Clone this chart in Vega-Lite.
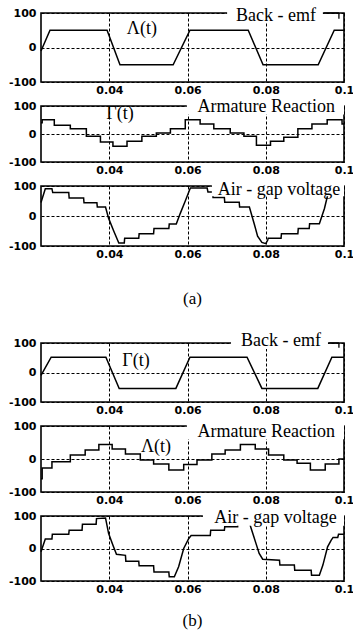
{
  "$schema": "https://vega.github.io/schema/vega-lite/v6.json",
  "padding": {"left": 7, "top": 5, "right": 0, "bottom": 0},
  "background": "white",
  "datasets": {
    "emfA": [
      {"t": 0.0225, "v": -10}, {"t": 0.0248, "v": 50}, {"t": 0.0394, "v": 50}, {"t": 0.0427, "v": -50},
      {"t": 0.0563, "v": -50}, {"t": 0.0606, "v": 50}, {"t": 0.0755, "v": 50}, {"t": 0.0793, "v": -50},
      {"t": 0.0934, "v": -50}, {"t": 0.0975, "v": 50}, {"t": 0.1, "v": 50}
    ],
    "armA": [
      {"t": 0.0225, "v": 40}, {"t": 0.0228, "v": 51}, {"t": 0.0259, "v": 31}, {"t": 0.03, "v": 19},
      {"t": 0.0341, "v": -8}, {"t": 0.0377, "v": -29}, {"t": 0.0409, "v": -44}, {"t": 0.0445, "v": -26},
      {"t": 0.0483, "v": -8}, {"t": 0.052, "v": 4}, {"t": 0.0556, "v": 19}, {"t": 0.0594, "v": 51},
      {"t": 0.0632, "v": 36}, {"t": 0.0667, "v": 19}, {"t": 0.0709, "v": 4}, {"t": 0.0744, "v": -8},
      {"t": 0.0776, "v": -40}, {"t": 0.0812, "v": -26}, {"t": 0.0846, "v": -12}, {"t": 0.0882, "v": 19},
      {"t": 0.0918, "v": 36}, {"t": 0.0957, "v": 51}, {"t": 0.0995, "v": 36}, {"t": 0.1, "v": 36}
    ],
    "airA": [
      {"t": 0.0225, "v": 45}, {"t": 0.0236, "v": 91}, {"t": 0.0253, "v": 91}, {"t": 0.0255, "v": 78},
      {"t": 0.0296, "v": 78}, {"t": 0.0297, "v": 60}, {"t": 0.0334, "v": 60}, {"t": 0.0335, "v": 44},
      {"t": 0.0368, "v": 44}, {"t": 0.0369, "v": 30}, {"t": 0.039, "v": 30}, {"t": 0.0398, "v": -8},
      {"t": 0.0411, "v": -50}, {"t": 0.0424, "v": -90}, {"t": 0.0438, "v": -90}, {"t": 0.0439, "v": -74},
      {"t": 0.0475, "v": -74}, {"t": 0.0476, "v": -59}, {"t": 0.0513, "v": -59}, {"t": 0.0514, "v": -42},
      {"t": 0.0552, "v": -42}, {"t": 0.0553, "v": -27}, {"t": 0.0571, "v": -27}, {"t": 0.0581, "v": 8},
      {"t": 0.0594, "v": 50}, {"t": 0.0607, "v": 93}, {"t": 0.065, "v": 93}, {"t": 0.0652, "v": 80},
      {"t": 0.0664, "v": 80}, {"t": 0.0665, "v": 62}, {"t": 0.0694, "v": 62}, {"t": 0.0695, "v": 46},
      {"t": 0.0732, "v": 46}, {"t": 0.0733, "v": 30}, {"t": 0.0758, "v": 30}, {"t": 0.0771, "v": -29},
      {"t": 0.0779, "v": -67}, {"t": 0.079, "v": -88}, {"t": 0.08, "v": -92}, {"t": 0.0805, "v": -80},
      {"t": 0.0806, "v": -74}, {"t": 0.0839, "v": -74}, {"t": 0.084, "v": -59}, {"t": 0.0882, "v": -59},
      {"t": 0.0883, "v": -42}, {"t": 0.0911, "v": -42}, {"t": 0.0912, "v": -26}, {"t": 0.0937, "v": -26},
      {"t": 0.095, "v": 25}, {"t": 0.0958, "v": 68}, {"t": 0.0967, "v": 91}, {"t": 0.1, "v": 91}
    ],
    "emfB": [
      {"t": 0.0225, "v": -10}, {"t": 0.0251, "v": 52}, {"t": 0.0391, "v": 52}, {"t": 0.0425, "v": -54},
      {"t": 0.057, "v": -54}, {"t": 0.0606, "v": 52}, {"t": 0.0752, "v": 52}, {"t": 0.079, "v": -54},
      {"t": 0.0933, "v": -54}, {"t": 0.0969, "v": 52}, {"t": 0.1, "v": 52}
    ],
    "armB": [
      {"t": 0.0225, "v": -60}, {"t": 0.0228, "v": -27}, {"t": 0.0253, "v": -8}, {"t": 0.03, "v": 12},
      {"t": 0.0338, "v": 27}, {"t": 0.0373, "v": 44}, {"t": 0.0407, "v": 30}, {"t": 0.0441, "v": 15},
      {"t": 0.0479, "v": -3}, {"t": 0.0513, "v": -15}, {"t": 0.0552, "v": -33}, {"t": 0.059, "v": -17},
      {"t": 0.0624, "v": -3}, {"t": 0.0662, "v": 15}, {"t": 0.0696, "v": 27}, {"t": 0.0735, "v": 44},
      {"t": 0.0773, "v": 30}, {"t": 0.0807, "v": 12}, {"t": 0.0846, "v": -3}, {"t": 0.088, "v": -13},
      {"t": 0.0914, "v": -33}, {"t": 0.0952, "v": -15}, {"t": 0.0987, "v": 0}, {"t": 0.1, "v": 0}
    ],
    "airB": [
      {"t": 0.0225, "v": -10}, {"t": 0.0236, "v": 29}, {"t": 0.0253, "v": 29}, {"t": 0.0254, "v": 44},
      {"t": 0.0296, "v": 44}, {"t": 0.0297, "v": 56}, {"t": 0.033, "v": 56}, {"t": 0.0331, "v": 75},
      {"t": 0.0366, "v": 75}, {"t": 0.0367, "v": 92}, {"t": 0.039, "v": 94}, {"t": 0.0398, "v": 46},
      {"t": 0.0409, "v": 10}, {"t": 0.0418, "v": -18}, {"t": 0.0441, "v": -21}, {"t": 0.0442, "v": -39},
      {"t": 0.0475, "v": -39}, {"t": 0.0476, "v": -53}, {"t": 0.0513, "v": -53}, {"t": 0.0514, "v": -72},
      {"t": 0.0552, "v": -72}, {"t": 0.0553, "v": -87}, {"t": 0.0566, "v": -87}, {"t": 0.0577, "v": -56},
      {"t": 0.059, "v": 0}, {"t": 0.0603, "v": 31}, {"t": 0.0609, "v": 40}, {"t": 0.0658, "v": 40},
      {"t": 0.0659, "v": 56}, {"t": 0.0694, "v": 56}, {"t": 0.0695, "v": 67}, {"t": 0.0728, "v": 67},
      {"t": 0.0729, "v": 92}, {"t": 0.0755, "v": 92}, {"t": 0.0762, "v": 64}, {"t": 0.0775, "v": 15},
      {"t": 0.0783, "v": -15}, {"t": 0.0792, "v": -33}, {"t": 0.0835, "v": -36}, {"t": 0.0836, "v": -51},
      {"t": 0.0873, "v": -51}, {"t": 0.0874, "v": -67}, {"t": 0.0916, "v": -67}, {"t": 0.0917, "v": -82},
      {"t": 0.0937, "v": -82}, {"t": 0.0946, "v": -51}, {"t": 0.0958, "v": 5}, {"t": 0.0967, "v": 25},
      {"t": 0.0972, "v": 34}, {"t": 0.0984, "v": 34}, {"t": 0.0986, "v": 44}, {"t": 0.1, "v": 44}
    ]
  },
  "config": {
    "view": {"stroke": "black", "strokeWidth": 1.6},
    "axis": {
      "labelFont": "DejaVu Sans", "labelFontWeight": "bold", "labelFontSize": 11, "labelColor": "black",
      "ticks": false, "domain": false, "gridColor": "black", "gridDash": [3, 2], "gridWidth": 1, "gridOpacity": 1,
      "tickCount": 10, "labelOverlap": false
    },
    "line": {"color": "black", "strokeWidth": 1.5},
    "text": {"font": "Liberation Serif", "fontSize": 18, "color": "black", "align": "center", "baseline": "alphabetic"}
  },
  "vconcat": [
    {
      "width": 303, "height": 69,
      "layer": [
        {"data": {"name": "emfA"}, "mark": "line",
         "encoding": {
           "x": {"field": "t", "type": "quantitative", "title": null, "scale": {"domain": [0.0225, 0.1], "nice": false, "zero": false}, "axis": {"values": [0.04, 0.06, 0.08, 0.1], "format": "~g", "labelPadding": 2, "labelFlush": false}},
           "y": {"field": "v", "type": "quantitative", "title": null, "scale": {"domain": [-100, 100], "nice": false}, "axis": {"values": [-100, 0, 100], "labelPadding": 5, "labelExpr": "replace(datum.label, '−', '-')"}}
         }},
        {"data": {"values": [{}]}, "mark": {"type": "rect", "color": "white"},
         "encoding": {"x": {"datum": 0.0701}, "x2": {"datum": 0.0946}, "y": {"datum": 120}, "y2": {"datum": 72}}},
        {"data": {"values": [{}]}, "mark": {"type": "rule", "color": "black", "strokeWidth": 1.3},
         "encoding": {"x": {"datum": 0.0949}, "x2": {"datum": 0.0987}, "y": {"datum": 100}}},
        {"data": {"values": [{}]}, "mark": {"type": "rule", "color": "black", "strokeWidth": 1.3},
         "encoding": {"x": {"datum": 0.0987}, "y": {"datum": 100}, "y2": {"datum": 83}}},
        {"data": {"values": [{"label": "Λ(t)"}]}, "mark": "text",
         "encoding": {"x": {"datum": 0.0483}, "y": {"datum": 40}, "text": {"field": "label"}}},
        {"data": {"values": [{"label": "Back - emf"}]}, "mark": "text",
         "encoding": {"x": {"datum": 0.0826}, "y": {"datum": 78}, "text": {"field": "label"}}}
      ]
    },
    {
      "width": 303, "height": 56,
      "layer": [
        {"data": {"name": "armA"}, "mark": {"type": "line", "interpolate": "step-after"},
         "encoding": {
           "x": {"field": "t", "type": "quantitative", "title": null, "scale": {"domain": [0.0225, 0.1], "nice": false, "zero": false}, "axis": {"values": [0.04, 0.06, 0.08, 0.1], "format": "~g", "labelPadding": 2, "labelFlush": false}},
           "y": {"field": "v", "type": "quantitative", "title": null, "scale": {"domain": [-100, 100], "nice": false}, "axis": {"values": [-100, 0, 100], "labelPadding": 5, "labelExpr": "replace(datum.label, '−', '-')"}}
         }},
        {"data": {"values": [{}]}, "mark": {"type": "rect", "color": "white"},
         "encoding": {"x": {"datum": 0.0598}, "x2": {"datum": 0.1}, "y": {"datum": 128}, "y2": {"datum": 70}}},
        {"data": {"values": [{"label": "Γ(t)"}]}, "mark": "text",
         "encoding": {"x": {"datum": 0.0427}, "y": {"datum": 52}, "text": {"field": "label"}}},
        {"data": {"values": [{"label": "Armature Reaction"}]}, "mark": "text",
         "encoding": {"x": {"datum": 0.0801}, "y": {"datum": 78}, "text": {"field": "label"}}}
      ]
    },
    {
      "width": 303, "height": 60,
      "layer": [
        {"data": {"name": "airA"}, "mark": "line",
         "encoding": {
           "x": {"field": "t", "type": "quantitative", "title": null, "scale": {"domain": [0.0225, 0.1], "nice": false, "zero": false}, "axis": {"values": [0.04, 0.06, 0.08, 0.1], "format": "~g", "labelPadding": 2, "labelFlush": false}},
           "y": {"field": "v", "type": "quantitative", "title": null, "scale": {"domain": [-100, 100], "nice": false}, "axis": {"values": [-100, 0, 100], "labelPadding": 5, "labelExpr": "replace(datum.label, '−', '-')"}}
         }},
        {"data": {"values": [{}]}, "mark": {"type": "rect", "color": "white"},
         "encoding": {"x": {"datum": 0.0662}, "x2": {"datum": 0.1}, "y": {"datum": 123}, "y2": {"datum": 66}}},
        {"data": {"values": [{"label": "Air - gap voltage"}]}, "mark": "text",
         "encoding": {"x": {"datum": 0.0834}, "y": {"datum": 70}, "text": {"field": "label"}}}
      ]
    },
    {
      "width": 303, "height": 49, "view": {"stroke": null},
      "data": {"values": [{"label": "(a)"}]},
      "mark": {"type": "text", "fontSize": 17, "baseline": "middle"},
      "encoding": {
        "y": {"datum": 0.408, "scale": {"domain": [0, 1]}, "axis": null},
        "text": {"field": "label"}
      }
    },
    {
      "width": 303, "height": 59,
      "layer": [
        {"data": {"name": "emfB"}, "mark": "line",
         "encoding": {
           "x": {"field": "t", "type": "quantitative", "title": null, "scale": {"domain": [0.0225, 0.1], "nice": false, "zero": false}, "axis": {"values": [0.04, 0.06, 0.08, 0.1], "format": "~g", "labelPadding": 2, "labelFlush": false}},
           "y": {"field": "v", "type": "quantitative", "title": null, "scale": {"domain": [-100, 100], "nice": false}, "axis": {"values": [-100, 0, 100], "labelPadding": 5, "labelExpr": "replace(datum.label, '−', '-')"}}
         }},
        {"data": {"values": [{}]}, "mark": {"type": "rect", "color": "white"},
         "encoding": {"x": {"datum": 0.0711}, "x2": {"datum": 0.0959}, "y": {"datum": 141}, "y2": {"datum": 80}}},
        {"data": {"values": [{}]}, "mark": {"type": "rule", "color": "black", "strokeWidth": 1.3},
         "encoding": {"x": {"datum": 0.0962}, "x2": {"datum": 0.0987}, "y": {"datum": 100}}},
        {"data": {"values": [{}]}, "mark": {"type": "rule", "color": "black", "strokeWidth": 1.3},
         "encoding": {"x": {"datum": 0.0987}, "y": {"datum": 100}, "y2": {"datum": 84}}},
        {"data": {"values": [{"label": "Γ(t)"}]}, "mark": "text",
         "encoding": {"x": {"datum": 0.0468}, "y": {"datum": 22}, "text": {"field": "label"}}},
        {"data": {"values": [{"label": "Back - emf"}]}, "mark": "text",
         "encoding": {"x": {"datum": 0.0839}, "y": {"datum": 91}, "text": {"field": "label"}}}
      ]
    },
    {
      "width": 303, "height": 66,
      "layer": [
        {"data": {"name": "armB"}, "mark": {"type": "line", "interpolate": "step-after"},
         "encoding": {
           "x": {"field": "t", "type": "quantitative", "title": null, "scale": {"domain": [0.0225, 0.1], "nice": false, "zero": false}, "axis": {"values": [0.04, 0.06, 0.08, 0.1], "format": "~g", "labelPadding": 2, "labelFlush": false}},
           "y": {"field": "v", "type": "quantitative", "title": null, "scale": {"domain": [-100, 100], "nice": false}, "axis": {"values": [-100, 0, 100], "labelPadding": 5, "labelExpr": "replace(datum.label, '−', '-')"}}
         }},
        {"data": {"values": [{}]}, "mark": {"type": "rect", "color": "white"},
         "encoding": {"x": {"datum": 0.0598}, "x2": {"datum": 0.1}, "y": {"datum": 121}, "y2": {"datum": 60}}},
        {"data": {"values": [{"label": "Λ(t)"}]}, "mark": "text",
         "encoding": {"x": {"datum": 0.0519}, "y": {"datum": 22}, "text": {"field": "label"}}},
        {"data": {"values": [{"label": "Armature Reaction"}]}, "mark": "text",
         "encoding": {"x": {"datum": 0.0801}, "y": {"datum": 68}, "text": {"field": "label"}}}
      ]
    },
    {
      "width": 303, "height": 65,
      "layer": [
        {"data": {"name": "airB"}, "mark": "line",
         "encoding": {
           "x": {"field": "t", "type": "quantitative", "title": null, "scale": {"domain": [0.0225, 0.1], "nice": false, "zero": false}, "axis": {"values": [0.04, 0.06, 0.08, 0.1], "format": "~g", "labelPadding": 2, "labelFlush": false}},
           "y": {"field": "v", "type": "quantitative", "title": null, "scale": {"domain": [-100, 100], "nice": false}, "axis": {"values": [-100, 0, 100], "labelPadding": 5, "labelExpr": "replace(datum.label, '−', '-')"}}
         }},
        {"data": {"values": [{}]}, "mark": {"type": "rect", "color": "white"},
         "encoding": {"x": {"datum": 0.0639}, "x2": {"datum": 0.1}, "y": {"datum": 128}, "y2": {"datum": 70}}},
        {"data": {"values": [{"label": "Air - gap voltage"}]}, "mark": "text",
         "encoding": {"x": {"datum": 0.0825}, "y": {"datum": 78.5}, "text": {"field": "label"}}}
      ]
    },
    {
      "width": 303, "height": 36, "view": {"stroke": null},
      "data": {"values": [{"label": "(b)"}]},
      "mark": {"type": "text", "fontSize": 17, "baseline": "middle"},
      "encoding": {
        "y": {"datum": 0.55, "scale": {"domain": [0, 1]}, "axis": null},
        "text": {"field": "label"}
      }
    }
  ],
  "spacing": 24,
  "bounds": "flush"
}
